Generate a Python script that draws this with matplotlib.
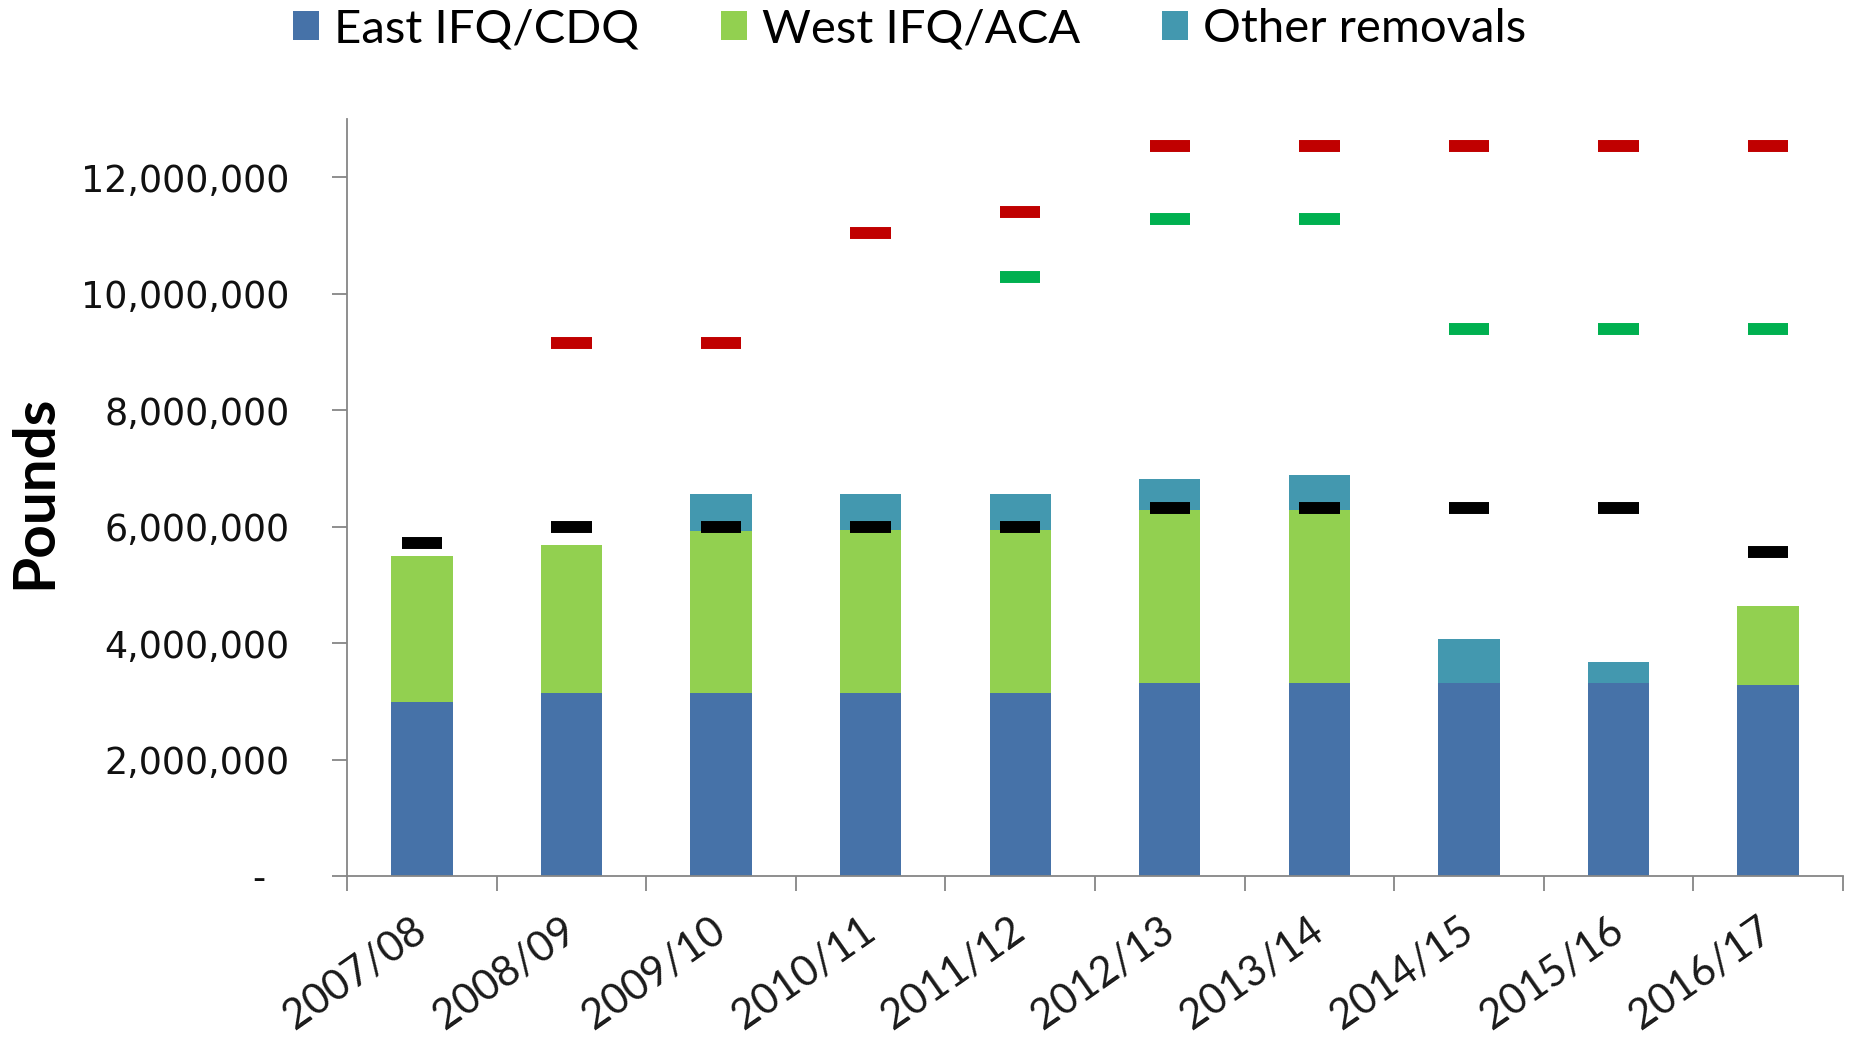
import matplotlib
matplotlib.use('Agg')
import matplotlib.pyplot as plt
import numpy as np
from matplotlib.ticker import FuncFormatter, FixedLocator

seasons = ['2007/08', '2008/09', '2009/10', '2010/11', '2011/12',
           '2012/13', '2013/14', '2014/15', '2015/16', '2016/17']
east_ifq_cdq = [2980000, 3150000, 3150000, 3150000, 3150000,
                3310000, 3310000, 3310000, 3310000, 3280000]
west_ifq_aca = [2510000, 2540000, 2770000, 2800000, 2800000,
                2980000, 2980000, 0, 0, 1360000]
other_removals = [0, 0, 640000, 610000, 610000,
                  520000, 590000, 760000, 370000, 0]
black_marks = [5720000, 5990000, 5990000, 5990000, 5990000,
               6320000, 6320000, 6320000, 6320000, 5560000]
green_marks = [np.nan, np.nan, np.nan, np.nan, 10290000,
               11280000, 11280000, 9390000, 9390000, 9390000]
red_marks = [np.nan, 9160000, 9160000, 11040000, 11410000,
             12530000, 12530000, 12530000, 12530000, 12530000]
y_ticks = [0, 2000000, 4000000, 6000000, 8000000, 10000000, 12000000]

C_EAST = '#4672A8'
C_WEST = '#92D050'
C_OTHER = '#4398AF'
C_RED = '#C00000'
C_GREEN = '#00B050'
C_AXIS = '#868686'

fig = plt.figure(figsize=(18.64, 10.40), dpi=100)
ax = fig.add_axes([0.1862, 0.1577, 0.8025, 0.7279])

x = np.arange(len(seasons))
w = 0.41
east = np.array(east_ifq_cdq, dtype=float)
west = np.array(west_ifq_aca, dtype=float)
other = np.array(other_removals, dtype=float)
b1 = ax.bar(x, east, w, color=C_EAST, label='East IFQ/CDQ', zorder=2)
b2 = ax.bar(x, west, w, bottom=east, color=C_WEST, label='West IFQ/ACA', zorder=2)
b3 = ax.bar(x, other, w, bottom=east + west, color=C_OTHER, label='Other removals', zorder=2)

hw = 0.135
lw = 8.6
for vals, col in [(red_marks, C_RED), (green_marks, C_GREEN), (black_marks, 'black')]:
    v = np.array(vals, dtype=float)
    m = ~np.isnan(v)
    ax.hlines(v[m], x[m] - hw, x[m] + hw, colors=col, linewidth=lw,
              capstyle='butt', zorder=3)

ax.set_xlim(-0.5, len(seasons) - 0.5)
ax.set_ylim(0, 13000000)

ax.yaxis.set_major_locator(FixedLocator(y_ticks))
ax.yaxis.set_major_formatter(FuncFormatter(lambda v, p: '-  ' if v == 0 else f'{v:,.0f}'))
ax.tick_params(axis='y', which='major', length=10.5, width=1.3, color=C_AXIS,
               pad=31, labelsize=26.3)
for lab in ax.get_yticklabels():
    lab.set_family('DejaVu Sans')
    lab.set_color('#111111')

ax.set_xticks(x)
ax.set_xticklabels(seasons, rotation=35, ha='right', va='center',
                   rotation_mode='anchor', family='Lato', fontsize=30, color='#1a1a1a')
ax.tick_params(axis='x', which='major', length=0, pad=36)
ax.set_xticks(np.arange(-0.5, len(seasons) + 0.5, 1), minor=True)
ax.tick_params(axis='x', which='minor', length=10.5, width=1.3, color=C_AXIS)

for s in ['top', 'right']:
    ax.spines[s].set_visible(False)
for s in ['left', 'bottom']:
    ax.spines[s].set_color(C_AXIS)
    ax.spines[s].set_linewidth(1.3)

ax.set_ylabel('Pounds', family='Lato', fontweight='bold', fontsize=42)
ax.yaxis.set_label_coords(-0.191, 0.508)

fig.legend(handles=[b1, b2, b3], loc='center', bbox_to_anchor=(0.488, 0.972), ncol=3,
           frameon=False, prop={'family': 'Lato', 'size': 34},
           handlelength=0.55, handleheight=0.55, handletextpad=0.3,
           columnspacing=1.75, borderaxespad=0)

fig.savefig('out.png', dpi=100)
